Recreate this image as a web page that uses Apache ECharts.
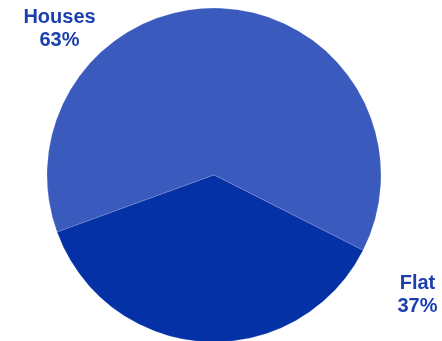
<!DOCTYPE html>
<html>
<head>
<meta charset="utf-8">
<script src="https://cdn.jsdelivr.net/npm/echarts@6/dist/echarts.min.js"></script>
<style>
  html, body { margin: 0; padding: 0; background: #ffffff; }
  #chart { width: 442px; height: 341px; }
</style>
</head>
<body>
<div id="chart"></div>
<script>
// Housing type shares
const categories = ['Houses', 'Flat'];
const shares = [63, 37];
const sliceColors = ['#3a5bbd', '#0432a6'];

// Where each outside label sits (px)
const labelSpots = [[59.5, 28.5], [417.5, 294.5]];

const chart = echarts.init(document.getElementById('chart'), null, { renderer: 'canvas' });

chart.setOption({
  animation: false,
  backgroundColor: '#ffffff',
  series: [{
    type: 'pie',
    center: [214, 175],
    radius: [0, 167],
    startAngle: 200,
    clockwise: true,
    silent: true,
    data: categories.map((name, i) => ({
      name: name,
      value: shares[i],
      itemStyle: { color: sliceColors[i] }
    })),
    itemStyle: { borderColor: 'rgba(255,255,255,0.25)', borderWidth: 0.6 },
    label: {
      show: true,
      position: 'outside',
      formatter: '{b}\n{d}%',
      color: '#1c3fae',
      fontFamily: 'Liberation Sans, Arial, sans-serif',
      fontWeight: 'bold',
      fontSize: 20,
      lineHeight: 23,
      align: 'center'
    },
    labelLine: { show: false },
    labelLayout: function (params) {
      const p = labelSpots[params.dataIndex];
      return { x: p[0], y: p[1], align: 'center', verticalAlign: 'middle' };
    }
  }]
});
</script>
</body>
</html>
